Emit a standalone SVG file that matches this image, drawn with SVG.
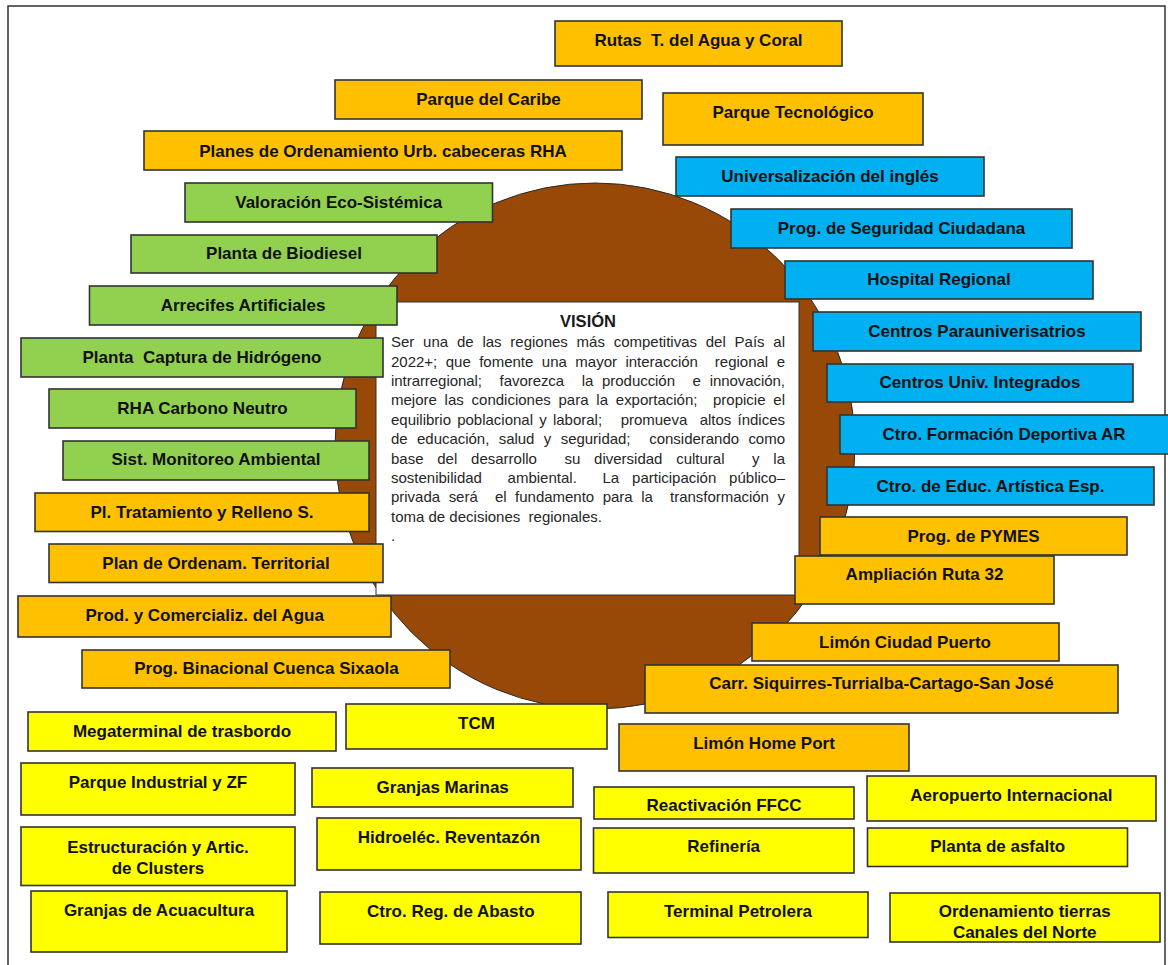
<svg xmlns="http://www.w3.org/2000/svg" width="1168" height="965" viewBox="0 0 1168 965">
<style>
.bx{stroke:#333;stroke-width:1.6}
.o{fill:#FFC000}.g{fill:#92D050}.b{fill:#00B0F0}.y{fill:#FFFF00}
.t{font-family:"Liberation Sans",Arial,sans-serif;font-weight:bold;font-size:17px;text-anchor:middle;fill:#111;white-space:pre}
.v{font-family:"Liberation Sans",Arial,sans-serif;font-size:15px;fill:#262626;white-space:pre}
.vt{font-family:"Liberation Sans",Arial,sans-serif;font-weight:bold;font-size:16.5px;text-anchor:middle;fill:#1a1a1a}
</style>
<rect x="0" y="0" width="1168" height="965" fill="#fff"/>
<rect x="8" y="6" width="1157" height="980" fill="none" stroke="#333" stroke-width="1.5"/>
<g id="vision">
<ellipse cx="595" cy="446" rx="260" ry="263" fill="#984807" stroke="#2a2a2a" stroke-width="1"/>
<rect x="376" y="302" width="423" height="293" fill="#fff" stroke="#333" stroke-width="1"/>
<text class="vt" x="588" y="327">VISIÓN</text>
<text class="v" x="391" y="347.3" word-spacing="4.63" textLength="394" lengthAdjust="spacing">Ser una de las regiones más competitivas del País al</text>
<text class="v" x="391" y="366.7" word-spacing="4.3" textLength="394" lengthAdjust="spacing">2022+; que fomente una mayor interacción  regional e</text>
<text class="v" x="391" y="386.1" word-spacing="4.69" textLength="394" lengthAdjust="spacing">intrarregional;  favorezca  la producción  e innovación,</text>
<text class="v" x="391" y="405.4" word-spacing="3.65" textLength="394" lengthAdjust="spacing">mejore las condiciones para la exportación;  propicie el</text>
<text class="v" x="391" y="424.8" word-spacing="2.03" textLength="394" lengthAdjust="spacing">equilibrio poblacional y laboral;   promueva  altos índices</text>
<text class="v" x="391" y="444.2" word-spacing="5.24" textLength="394" lengthAdjust="spacing">de educación, salud y seguridad;  considerando como</text>
<text class="v" x="391" y="463.6" word-spacing="9.6" textLength="394" lengthAdjust="spacing">base del desarrollo  su diversidad cultural  y la</text>
<text class="v" x="391" y="483" word-spacing="8.67" textLength="394" lengthAdjust="spacing">sostenibilidad  ambiental.  La participación público–</text>
<text class="v" x="391" y="502.3" word-spacing="4.44" textLength="394" lengthAdjust="spacing">privada será  el fundamento para la  transformación y</text>
<text class="v" x="391" y="521.7">toma de decisiones  regionales.</text>
<text class="v" x="391" y="541">.</text>
</g>
<g id="connectors"/>
<g id="n-rutas"><rect class="bx o" x="555" y="21" width="287" height="45"/><text class="t" x="698.5" y="46">Rutas  T. del Agua y Coral</text></g>
<g id="n-caribe"><rect class="bx o" x="335" y="80" width="307" height="39"/><text class="t" x="488.5" y="105">Parque del Caribe</text></g>
<g id="n-planes"><rect class="bx o" x="144" y="131" width="478" height="39"/><text class="t" x="383" y="157">Planes de Ordenamiento Urb. cabeceras RHA</text></g>
<g id="n-tecno"><rect class="bx o" x="663" y="93" width="260" height="52"/><text class="t" x="793" y="118">Parque Tecnológico</text></g>
<g id="n-valoracion"><rect class="bx g" x="185" y="183" width="307.5" height="39"/><text class="t" x="338.7" y="207.7">Valoración Eco-Sistémica</text></g>
<g id="n-biodiesel"><rect class="bx g" x="131" y="235" width="306" height="38"/><text class="t" x="284" y="259.3">Planta de Biodiesel</text></g>
<g id="n-arrecifes"><rect class="bx g" x="89.5" y="286" width="307.5" height="39"/><text class="t" x="243" y="311">Arrecifes Artificiales</text></g>
<g id="n-captura"><rect class="bx g" x="21" y="338" width="362" height="39"/><text class="t" x="202" y="362.7">Planta  Captura de Hidrógeno</text></g>
<g id="n-rha"><rect class="bx g" x="49" y="389" width="307" height="39"/><text class="t" x="202.5" y="414.3">RHA Carbono Neutro</text></g>
<g id="n-monitoreo"><rect class="bx g" x="63" y="441" width="306" height="39"/><text class="t" x="216" y="465.3">Sist. Monitoreo Ambiental</text></g>
<g id="n-tratamiento"><rect class="bx o" x="35" y="493" width="334" height="38.5"/><text class="t" x="202" y="517.7">Pl. Tratamiento y Relleno S.</text></g>
<g id="n-ordenam"><rect class="bx o" x="49" y="544" width="334" height="38.5"/><text class="t" x="216" y="569">Plan de Ordenam. Territorial</text></g>
<g id="n-agua"><rect class="bx o" x="18" y="596" width="373" height="41"/><text class="t" x="204.7" y="621">Prod. y Comercializ. del Agua</text></g>
<g id="n-sixaola"><rect class="bx o" x="82" y="650" width="368" height="38"/><text class="t" x="266.5" y="674">Prog. Binacional Cuenca Sixaola</text></g>
<g id="n-ingles"><rect class="bx b" x="676" y="157" width="308" height="39"/><text class="t" x="830" y="181.7">Universalización del inglés</text></g>
<g id="n-seguridad"><rect class="bx b" x="731" y="209" width="341" height="39"/><text class="t" x="901.5" y="233.7">Prog. de Seguridad Ciudadana</text></g>
<g id="n-hospital"><rect class="bx b" x="785" y="261" width="308" height="38"/><text class="t" x="939" y="285.3">Hospital Regional</text></g>
<g id="n-parauniv"><rect class="bx b" x="813" y="312" width="328" height="39"/><text class="t" x="977" y="336.7">Centros Parauniverisatrios</text></g>
<g id="n-univ"><rect class="bx b" x="827" y="364" width="306" height="38"/><text class="t" x="980" y="387.7">Centros Univ. Integrados</text></g>
<g id="n-deportiva"><rect class="bx b" x="840" y="415" width="330" height="39"/><text class="t" x="1004" y="440.3">Ctro. Formación Deportiva AR</text></g>
<g id="n-artistica"><rect class="bx b" x="827" y="467" width="327" height="38"/><text class="t" x="990.5" y="491.7">Ctro. de Educ. Artística Esp.</text></g>
<g id="n-pymes"><rect class="bx o" x="820" y="517" width="307" height="38"/><text class="t" x="973.5" y="542">Prog. de PYMES</text></g>
<g id="n-ruta32"><rect class="bx o" x="795" y="556" width="259" height="48"/><text class="t" x="924.5" y="580">Ampliación Ruta 32</text></g>
<g id="n-ciudadpuerto"><rect class="bx o" x="752" y="623" width="307" height="38"/><text class="t" x="905" y="647.7">Limón Ciudad Puerto</text></g>
<g id="n-carr"><rect class="bx o" x="645" y="665" width="473" height="48"/><text class="t" x="881.5" y="689">Carr. Siquirres-Turrialba-Cartago-San José</text></g>
<g id="n-homeport"><rect class="bx o" x="619" y="724" width="290" height="47"/><text class="t" x="764" y="749">Limón Home Port</text></g>
<g id="n-megaterminal"><rect class="bx y" x="28" y="712" width="308" height="39"/><text class="t" x="182" y="736.7">Megaterminal de trasbordo</text></g>
<g id="n-tcm"><rect class="bx y" x="346" y="704" width="261" height="45"/><text class="t" x="476.5" y="729">TCM</text></g>
<g id="n-parqueind"><rect class="bx y" x="21" y="763" width="274" height="52"/><text class="t" x="158" y="788">Parque Industrial y ZF</text></g>
<g id="n-granjasmar"><rect class="bx y" x="312" y="768" width="261" height="39"/><text class="t" x="442.7" y="793.3">Granjas Marinas</text></g>
<g id="n-clusters"><rect class="bx y" x="21" y="827" width="274" height="58.5"/><text class="t" x="158" y="852.7">Estructuración y Artic.</text><text class="t" x="158" y="874.3">de Clusters</text></g>
<g id="n-hidro"><rect class="bx y" x="317" y="818" width="264" height="52"/><text class="t" x="449" y="843">Hidroeléc. Reventazón</text></g>
<g id="n-acuacultura"><rect class="bx y" x="31" y="891" width="256" height="61"/><text class="t" x="159" y="916.3">Granjas de Acuacultura</text></g>
<g id="n-abasto"><rect class="bx y" x="320" y="892" width="261" height="52"/><text class="t" x="450.8" y="916.7">Ctro. Reg. de Abasto</text></g>
<g id="n-ffcc"><rect class="bx y" x="594" y="787" width="260" height="32"/><text class="t" x="724" y="810.7">Reactivación FFCC</text></g>
<g id="n-aeropuerto"><rect class="bx y" x="867" y="776" width="289" height="45"/><text class="t" x="1011.4" y="801.3">Aeropuerto Internacional</text></g>
<g id="n-refineria"><rect class="bx y" x="593.5" y="828" width="260.5" height="45"/><text class="t" x="723.7" y="852">Refinería</text></g>
<g id="n-asfalto"><rect class="bx y" x="867.5" y="828" width="260" height="38.5"/><text class="t" x="997.7" y="852.3">Planta de asfalto</text></g>
<g id="n-petrolera"><rect class="bx y" x="608" y="892" width="260" height="45.5"/><text class="t" x="738" y="916.7">Terminal Petrolera</text></g>
<g id="n-canales"><rect class="bx y" x="890" y="893" width="270" height="49"/><text class="t" x="1024.7" y="917">Ordenamiento tierras</text><text class="t" x="1024.7" y="938">Canales del Norte</text></g>
</svg>
